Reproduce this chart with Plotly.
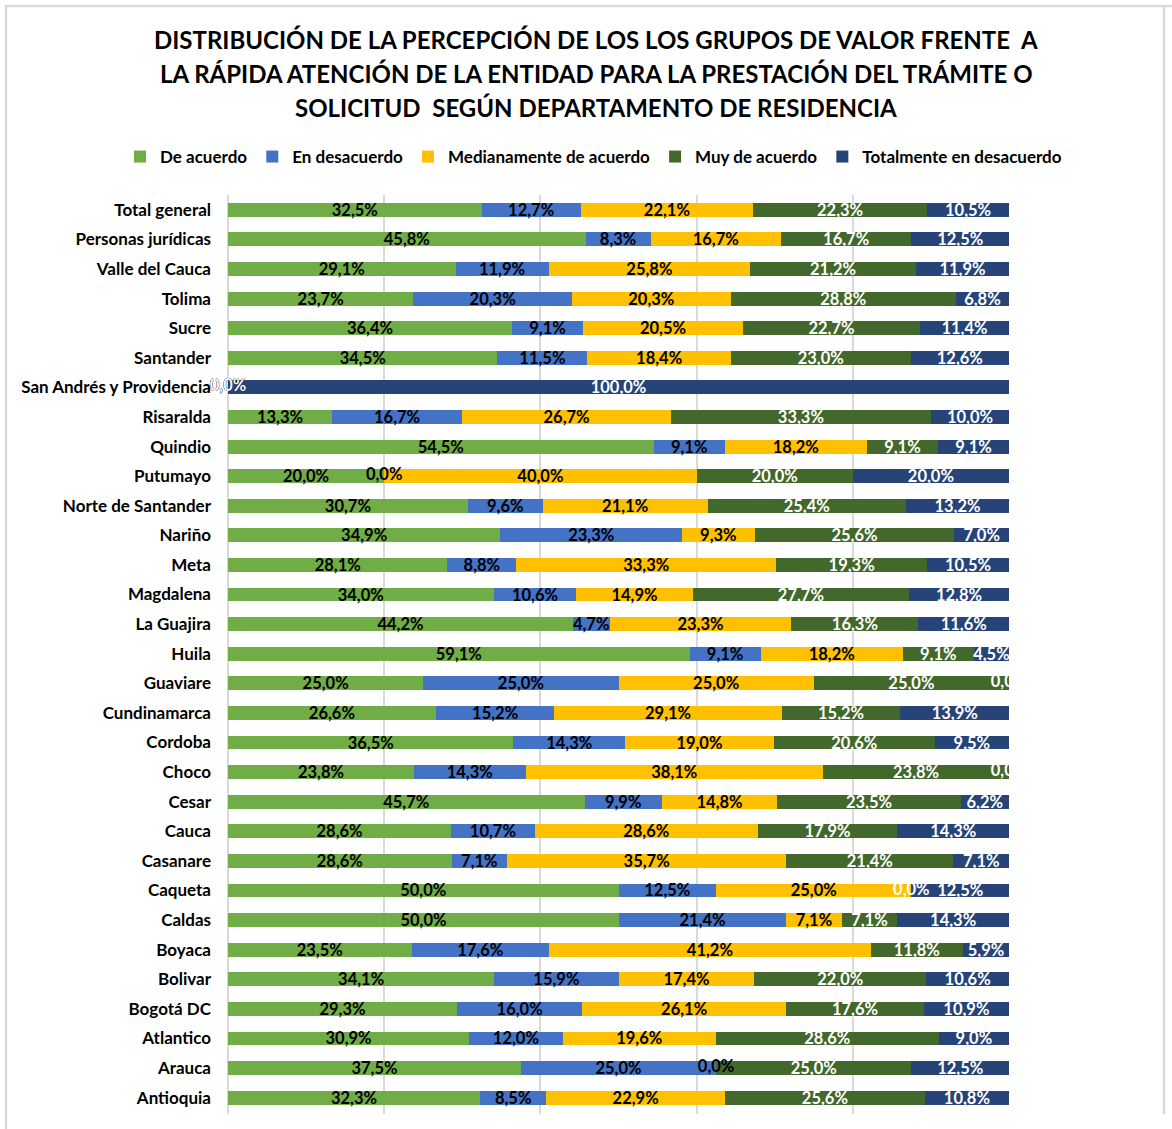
import plotly.graph_objects as go

categories = [
    "Total general", "Personas jurídicas", "Valle del Cauca", "Tolima", "Sucre",
    "Santander", "San Andrés y Providencia", "Risaralda", "Quindio", "Putumayo",
    "Norte de Santander", "Nariño", "Meta", "Magdalena", "La Guajira", "Huila",
    "Guaviare", "Cundinamarca", "Cordoba", "Choco", "Cesar", "Cauca", "Casanare",
    "Caqueta", "Caldas", "Boyaca", "Bolivar", "Bogotá DC", "Atlantico", "Arauca",
    "Antioquia",
]

series_names = ["De acuerdo", "En desacuerdo", "Medianamente de acuerdo",
                "Muy de acuerdo", "Totalmente en desacuerdo"]

de_acuerdo = [32.5, 45.8, 29.1, 23.7, 36.4, 34.5, 0.0, 13.3, 54.5, 20.0, 30.7, 34.9,
              28.1, 34.0, 44.2, 59.1, 25.0, 26.6, 36.5, 23.8, 45.7, 28.6, 28.6, 50.0,
              50.0, 23.5, 34.1, 29.3, 30.9, 37.5, 32.3]
en_desacuerdo = [12.7, 8.3, 11.9, 20.3, 9.1, 11.5, 0.0, 16.7, 9.1, 0.0, 9.6, 23.3,
                 8.8, 10.6, 4.7, 9.1, 25.0, 15.2, 14.3, 14.3, 9.9, 10.7, 7.1, 12.5,
                 21.4, 17.6, 15.9, 16.0, 12.0, 25.0, 8.5]
medianamente = [22.1, 16.7, 25.8, 20.3, 20.5, 18.4, 0.0, 26.7, 18.2, 40.0, 21.1, 9.3,
                33.3, 14.9, 23.3, 18.2, 25.0, 29.1, 19.0, 38.1, 14.8, 28.6, 35.7, 25.0,
                7.1, 41.2, 17.4, 26.1, 19.6, 0.0, 22.9]
muy_de_acuerdo = [22.3, 16.7, 21.2, 28.8, 22.7, 23.0, 0.0, 33.3, 9.1, 20.0, 25.4, 25.6,
                  19.3, 27.7, 16.3, 9.1, 25.0, 15.2, 20.6, 23.8, 23.5, 17.9, 21.4, 0.0,
                  7.1, 11.8, 22.0, 17.6, 28.6, 25.0, 25.6]
totalmente = [10.5, 12.5, 11.9, 6.8, 11.4, 12.6, 100.0, 10.0, 9.1, 20.0, 13.2, 7.0,
              10.5, 12.8, 11.6, 4.5, 0.0, 13.9, 9.5, 0.0, 6.2, 14.3, 7.1, 12.5,
              14.3, 5.9, 10.6, 10.9, 9.0, 12.5, 10.8]

title_lines = [
    "DISTRIBUCIÓN DE LA PERCEPCIÓN DE LOS LOS GRUPOS DE VALOR FRENTE  A",
    "LA RÁPIDA ATENCIÓN DE LA ENTIDAD PARA LA PRESTACIÓN DEL TRÁMITE O",
    "SOLICITUD  SEGÚN DEPARTAMENTO DE RESIDENCIA",
]

series_values = [de_acuerdo, en_desacuerdo, medianamente, muy_de_acuerdo, totalmente]
colors = ["#70AD47", "#4472C4", "#FFC000", "#43682B", "#264478"]
text_colors = ["#000000", "#000000", "#000000", "#FFFFFF", "#FFFFFF"]

FONT = "Lato"
W, H = 1172, 1129
ML, MR, MT, MB = 228, W - 1009, 195, 15


def px_x(px):
    return (px - ML) / (W - ML - MR)


def px_y(py):
    return (H - MB - py) / (H - MT - MB)


fig = go.Figure()
for name, vals, col, tcol in zip(series_names, series_values, colors, text_colors):
    fig.add_trace(go.Bar(
        name=name, y=categories, x=vals, customdata=vals, orientation="h",
        marker=dict(color=col, line=dict(width=0)),
        texttemplate="%{customdata:.1f}%", textposition="inside",
        insidetextanchor="middle", textangle=0, constraintext="none",
        textfont=dict(family=FONT, size=16.5, color=tcol, weight="bold"),
    ))

# labels for zero-valued segments (not drawn by bar text), placed at the
# normalised cumulative position of the segment
clip_x, clip_y, clip_c, free_x, free_y, free_c = [], [], [], [], [], []
for j, cat in enumerate(categories):
    total = sum(vals[j] for vals in series_values)
    start = 0.0
    for vals, tcol in zip(series_values, text_colors):
        v = vals[j]
        pos = start / total * 100
        if v == 0:
            if pos >= 99.9:
                clip_x.append(pos); clip_y.append(cat); clip_c.append(tcol)
            else:
                free_x.append(pos); free_y.append(cat); free_c.append(tcol)
        start += v

for xs, ys, cs, clip in [(free_x, free_y, free_c, False), (clip_x, clip_y, clip_c, True)]:
    fig.add_trace(go.Scatter(
        x=xs, y=ys, mode="text",
        text=["0,0%"] * len(xs), textposition="middle center",
        textfont=dict(family=FONT, size=16.5, color=cs, weight="bold"),
        cliponaxis=clip, showlegend=False, hoverinfo="skip",
    ))

annotations = []
for line, py in zip(title_lines, [40, 74, 108]):
    annotations.append(dict(
        text=line, xref="paper", yref="paper", x=px_x(596), y=px_y(py),
        xanchor="center", yanchor="middle", showarrow=False,
        font=dict(family=FONT, size=24, color="#000000", weight="bold"),
    ))

border = dict(type="line", xref="paper", yref="paper",
              line=dict(color="#D9D9D9", width=2.5))
shapes = [
    dict(border, x0=px_x(6), x1=px_x(6), y0=px_y(5), y1=px_y(1135)),
    dict(border, x0=px_x(5), x1=px_x(1175), y0=px_y(6), y1=px_y(6)),
    dict(border, x0=px_x(1164), x1=px_x(1164), y0=px_y(5), y1=px_y(1114)),
]

fig.update_layout(
    barmode="stack", barnorm="percent", bargap=0.53,
    width=W, height=H,
    margin=dict(l=ML, r=MR, t=MT, b=MB, autoexpand=False),
    paper_bgcolor="white", plot_bgcolor="white",
    separators=",.",
    font=dict(family=FONT, color="#000000"),
    showlegend=True,
    legend=dict(orientation="h", xref="paper", yref="paper",
                x=px_x(120), y=px_y(157), xanchor="left", yanchor="middle",
                font=dict(family=FONT, size=17, color="#000000", weight="bold"),
                itemwidth=30, traceorder="normal", itemclick=False),
    annotations=annotations,
    shapes=shapes,
    xaxis=dict(range=[0, 100], dtick=20, tick0=0, showticklabels=False,
               showgrid=True, gridcolor="#D9D9D9", gridwidth=2,
               zeroline=True, zerolinecolor="#D9D9D9", zerolinewidth=2,
               showline=False, fixedrange=True),
    yaxis=dict(autorange="reversed", showgrid=False, zeroline=False, showline=False,
               ticks="", ticklabelstandoff=16,
               tickfont=dict(family=FONT, size=17, color="#000000", weight="bold"),
               fixedrange=True),
)

fig.write_html("out.html")
